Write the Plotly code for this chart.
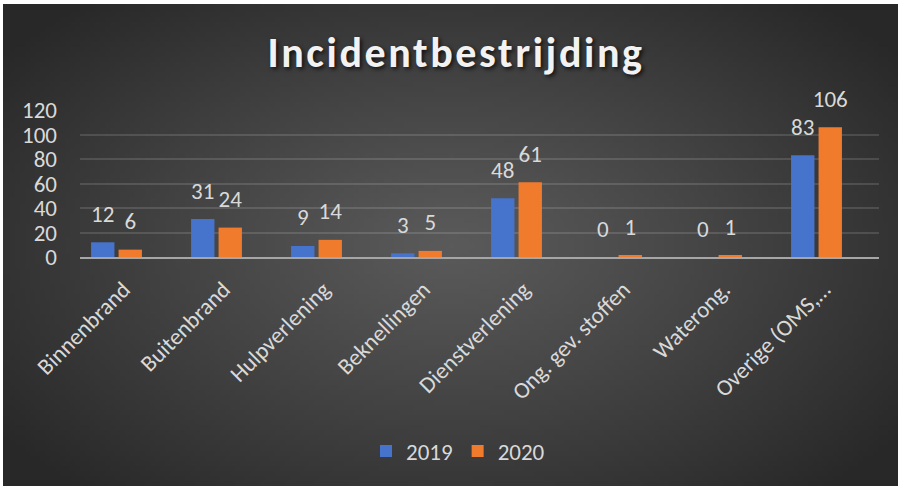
import base64, struct, zlib, math
import plotly.graph_objects as go

categories = ["Binnenbrand", "Buitenbrand", "Hulpverlening", "Beknellingen",
              "Dienstverlening", "Ong. gev. stoffen", "Waterong.", "Overige (OMS,…"]
v2019 = [12, 31, 9, 3, 48, 0, 0, 83]
v2020 = [6, 24, 14, 5, 61, 1, 1, 106]
series_names = ["2019", "2020"]
y_ticks = [0, 20, 40, 60, 80, 100, 120]

W, H = 898, 486
L, R, T, B = 80, 19, 110, 229
PW, PH = W - L - R, H - T - B
FONT = "Calibri, Carlito, Lato, sans-serif"
TXT = "#d9d9d9"
FS = 23


def png_gradient(w, h):
    c_in = (0x5a, 0x5a, 0x5a)
    c_out = (0x28, 0x28, 0x28)
    cx, cy, rx, ry = 0.5, 0.5, 0.62, 0.68
    rows = []
    for j in range(h):
        row = bytearray([0])
        for i in range(w):
            dx = ((i + 0.5) / w - cx) / rx
            dy = ((j + 0.5) / h - cy) / ry
            t = min(1.0, math.sqrt(dx * dx + dy * dy))
            t = t ** 1.1
            row += bytes(int(round(a + (b - a) * t)) for a, b in zip(c_in, c_out))
        rows.append(bytes(row))
    raw = b"".join(rows)

    def chunk(tag, data):
        c = tag + data
        return struct.pack(">I", len(data)) + c + struct.pack(">I", zlib.crc32(c) & 0xffffffff)

    png = b"\x89PNG\r\n\x1a\n" + chunk(b"IHDR", struct.pack(">IIBBBBB", w, h, 8, 2, 0, 0, 0))
    png += chunk(b"IDAT", zlib.compress(raw, 9)) + chunk(b"IEND", b"")
    return "data:image/png;base64," + base64.b64encode(png).decode()


bg = png_gradient(180, 96)

fig = go.Figure()
colors = ["#4673cc", "#f07b2c"]
for name, vals, col in zip(series_names, [v2019, v2020], colors):
    fig.add_trace(go.Bar(name=name, x=categories, y=vals, marker=dict(color=col, line=dict(width=0)),
                         offsetgroup=name, alignmentgroup="a"))
for name, vals in zip(series_names, [v2019, v2020]):
    fig.add_trace(go.Scatter(x=categories, y=vals, mode="markers+text", text=[str(v) for v in vals],
                             textposition="top center", showlegend=False, hoverinfo="skip",
                             orientation="v", offsetgroup=name, alignmentgroup="a",
                             marker=dict(size=22, color="rgba(0,0,0,0)"),
                             textfont=dict(family=FONT, size=FS, color=TXT), cliponaxis=False))

x0 = 3
y0 = 4
fig.add_layout_image(dict(source=bg, xref="paper", yref="paper",
                          x=(x0 - L) / PW, y=(H - B - y0) / PH,
                          sizex=(W - x0 + 2) / PW, sizey=(H - y0 + 2) / PH,
                          xanchor="left", yanchor="top", sizing="stretch", layer="below"))
# white frame strips at top and left edge
fig.add_shape(type="rect", xref="paper", yref="paper", x0=-L / PW, x1=(W - L) / PW,
              y0=(H - B - y0) / PH, y1=(H - B) / PH, fillcolor="white", line=dict(width=0), layer="above")
fig.add_shape(type="rect", xref="paper", yref="paper", x0=-L / PW, x1=(x0 - L) / PW,
              y0=-B / PH, y1=(H - B) / PH, fillcolor="white", line=dict(width=0), layer="above")

fig.update_layout(
    width=W, height=H,
    margin=dict(l=L, r=R, t=T, b=B, pad=0),
    paper_bgcolor="#282828", plot_bgcolor="rgba(0,0,0,0)",
    barmode="group", bargap=0.45, bargroupgap=0.15,
    scattermode="group", scattergap=0.45,
    title=dict(text="<span style='letter-spacing:2.6px'>Incidentbestrijding</span>",
               x=456 / W, xanchor="center", y=1 - 52 / H, yanchor="middle", yref="container",
               font=dict(family=FONT, size=42, color="#f2f2f2", weight="bold",
                         shadow="2px 2px 4px rgba(0,0,0,0.75)")),
    font=dict(family=FONT, size=FS, color=TXT),
    showlegend=True,
    legend=dict(orientation="h", x=(458 - L) / PW, xanchor="center", y=1 - 451 / H, yanchor="middle",
                yref="container", font=dict(family=FONT, size=FS, color=TXT),
                bgcolor="rgba(0,0,0,0)", itemwidth=30, traceorder="normal"),
    xaxis=dict(range=[-0.365, 7.625], tickangle=-45, showgrid=False, showline=True,
               linecolor="#a6a6a6", linewidth=2, ticks="", tickfont=dict(family=FONT, size=FS, color=TXT),
               ticklabelstandoff=8, ticklabelshift=7, fixedrange=True),
    yaxis=dict(range=[0, 120], tickvals=y_ticks, showgrid=True, gridcolor="rgba(255,255,255,0.13)",
               gridwidth=2, zeroline=False, showline=False, ticks="",
               tickfont=dict(family=FONT, size=FS, color=TXT), ticklabelstandoff=22, fixedrange=True),
)

fig.write_html("out.html", config={"displayModeBar": False},
               post_script="document.body.style.margin='0';document.body.style.overflow='hidden';")
